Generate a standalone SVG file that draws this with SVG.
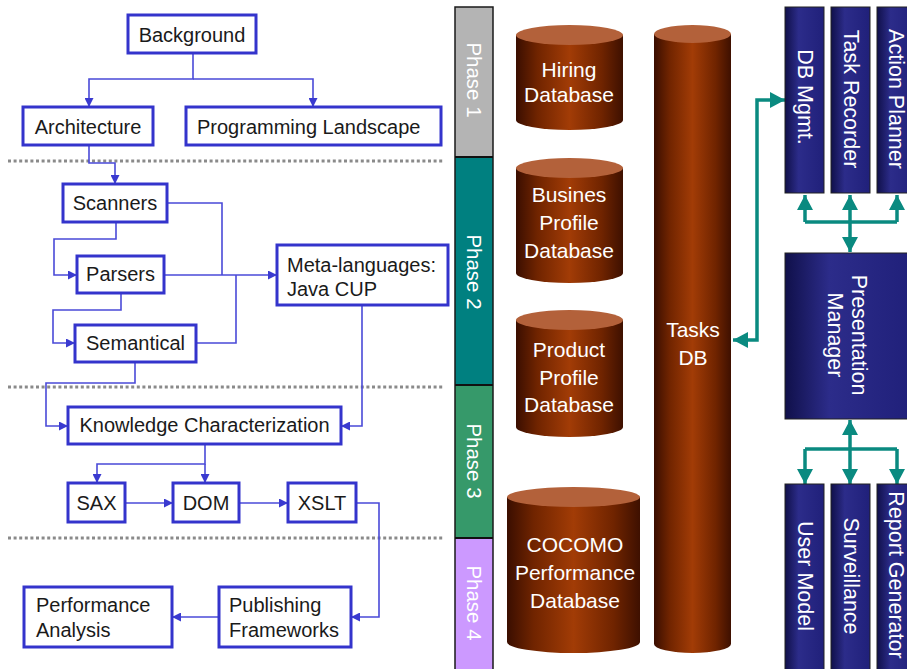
<svg xmlns="http://www.w3.org/2000/svg" width="907" height="669" viewBox="0 0 907 669">
<defs>
<style>
.box{fill:#fff;stroke:#3434cc;stroke-width:3}
.t{font-family:"Liberation Sans",Arial,sans-serif;font-size:20px;fill:#1a1a1a}
.c{text-anchor:middle}
.conn{fill:none;stroke:#4a4ad8;stroke-width:1.6}
.dot{stroke:#8a8a8a;stroke-width:3;stroke-dasharray:3 2.6}
.ph{font-family:"Liberation Sans",Arial,sans-serif;font-size:20.5px;fill:#fff;text-anchor:middle}
.cyl{fill:url(#cylg)}
.cyltop{fill:#b3613a}
.ct{font-family:"Liberation Sans",Arial,sans-serif;font-size:21px;fill:#fff;text-anchor:middle}
.bb{fill:url(#blug);stroke:#222;stroke-width:1}
.bt{font-family:"Liberation Sans",Arial,sans-serif;font-size:21.5px;fill:#fff;text-anchor:middle}
.teal{fill:none;stroke:#0a8a80;stroke-width:3.5}
</style>
<linearGradient id="cylg" x1="0" y1="0" x2="1" y2="0">
<stop offset="0" stop-color="#3a0e00"/>
<stop offset="0.2" stop-color="#702400"/>
<stop offset="0.5" stop-color="#a23c06"/>
<stop offset="0.8" stop-color="#702400"/>
<stop offset="1" stop-color="#3e1000"/>
</linearGradient>
<linearGradient id="blug" x1="0" y1="0" x2="1" y2="0">
<stop offset="0" stop-color="#10104a"/>
<stop offset="0.35" stop-color="#2c2c8a"/>
<stop offset="1" stop-color="#20207a"/>
</linearGradient>
<marker id="ab" viewBox="0 0 10 10" refX="10" refY="5" markerWidth="9" markerHeight="9" markerUnits="userSpaceOnUse" orient="auto">
<path d="M0,0 L10,5 L0,10 Z" fill="#3a3ad0"/>
</marker>
<marker id="at" viewBox="0 0 10 10" refX="10" refY="5" markerWidth="15" markerHeight="16" markerUnits="userSpaceOnUse" orient="auto-start-reverse" preserveAspectRatio="none">
<path d="M0,0 L10,5 L0,10 Z" fill="#0a8a80"/>
</marker>
</defs>
<rect width="907" height="669" fill="#fff"/>

<g id="dividers">
<line class="dot" x1="8" y1="161" x2="443" y2="161"/>
<line class="dot" x1="8" y1="387" x2="443" y2="387"/>
<line class="dot" x1="8" y1="538" x2="443" y2="538"/>
</g>

<g id="connectors">
<path class="conn" d="M193,53 V79 H89 V107" marker-end="url(#ab)"/>
<path class="conn" d="M193,79 H313 V107" marker-end="url(#ab)"/>
<path class="conn" d="M89,145 V163 H115 V184" marker-end="url(#ab)"/>
<path class="conn" d="M116,222 V239 H54 V275 H77" marker-end="url(#ab)"/>
<path class="conn" d="M167,203 H222 V275"/>
<path class="conn" d="M164,275 H277" marker-end="url(#ab)"/>
<path class="conn" d="M121,293 V310 H53 V343 H75" marker-end="url(#ab)"/>
<path class="conn" d="M196,343 H236 V275"/>
<path class="conn" d="M135,362 V383 H46 V426 H68" marker-end="url(#ab)"/>
<path class="conn" d="M362,305 V426 H341" marker-end="url(#ab)"/>
<path class="conn" d="M205,444 V464 H97 V483" marker-end="url(#ab)"/>
<path class="conn" d="M205,464 V483" marker-end="url(#ab)"/>
<path class="conn" d="M125,503 H173" marker-end="url(#ab)"/>
<path class="conn" d="M239,503 H288" marker-end="url(#ab)"/>
<path class="conn" d="M356,503 H379 V617 H351" marker-end="url(#ab)"/>
<path class="conn" d="M219,617 H172" marker-end="url(#ab)"/>
<path class="teal" d="M733,340 H757 V100 H785" marker-start="url(#at)" marker-end="url(#at)"/>
<path class="teal" d="M850,195 V252" marker-start="url(#at)" marker-end="url(#at)"/>
<path class="teal" d="M805,222 H897"/>
<path class="teal" d="M805,222 V195" marker-end="url(#at)"/>
<path class="teal" d="M897,222 V195" marker-end="url(#at)"/>
<path class="teal" d="M850,420 V484" marker-start="url(#at)" marker-end="url(#at)"/>
<path class="teal" d="M805,449 H897"/>
<path class="teal" d="M805,449 V484" marker-end="url(#at)"/>
<path class="teal" d="M897,449 V484" marker-end="url(#at)"/>
</g>

<g id="background"><rect class="box" x="128" y="15" width="128" height="38"/><text class="t c" x="192" y="42">Background</text></g>
<g id="architecture"><rect class="box" x="23" y="107" width="130" height="38"/><text class="t c" x="88" y="134">Architecture</text></g>
<g id="programming"><rect class="box" x="186" y="107" width="255" height="38"/><text class="t" x="197" y="134">Programming Landscape</text></g>
<g id="scanners"><rect class="box" x="63" y="184" width="104" height="38"/><text class="t c" x="115" y="210">Scanners</text></g>
<g id="parsers"><rect class="box" x="77" y="256" width="87" height="37"/><text class="t c" x="120.5" y="281">Parsers</text></g>
<g id="semantical"><rect class="box" x="75" y="325" width="121" height="37"/><text class="t c" x="135.5" y="350">Semantical</text></g>
<g id="meta"><rect class="box" x="277" y="245" width="171" height="60"/><text class="t" x="287" y="272">Meta-languages:</text><text class="t" x="287" y="296">Java CUP</text></g>
<g id="knowledge"><rect class="box" x="68" y="407" width="273" height="37"/><text class="t c" x="204.5" y="432">Knowledge Characterization</text></g>
<g id="sax"><rect class="box" x="68" y="483" width="57" height="39"/><text class="t c" x="96.5" y="510">SAX</text></g>
<g id="dom"><rect class="box" x="173" y="483" width="66" height="39"/><text class="t c" x="206" y="510">DOM</text></g>
<g id="xslt"><rect class="box" x="288" y="483" width="68" height="39"/><text class="t c" x="322" y="510">XSLT</text></g>
<g id="publishing"><rect class="box" x="219" y="587" width="132" height="60"/><text class="t" x="229" y="612">Publishing</text><text class="t" x="229" y="637">Frameworks</text></g>
<g id="performance"><rect class="box" x="24" y="587" width="148" height="60"/><text class="t" x="36" y="612">Performance</text><text class="t" x="36" y="637">Analysis</text></g>

<g id="phases">
<rect x="455" y="7" width="38" height="150" fill="#b4b4b4"/>
<rect x="455" y="157" width="38" height="228" fill="#008080"/>
<rect x="455" y="385" width="38" height="153" fill="#36996a"/>
<rect x="455" y="538" width="38" height="131" fill="#cc99ff"/>
<rect x="455" y="7" width="38" height="664" fill="none" stroke="#1a1a1a" stroke-width="1.5"/>
<line x1="455" y1="157" x2="493" y2="157" stroke="#111" stroke-width="2"/>
<line x1="455" y1="385" x2="493" y2="385" stroke="#111" stroke-width="2"/>
<line x1="455" y1="538" x2="493" y2="538" stroke="#111" stroke-width="2"/>
<text class="ph" transform="translate(474,80) rotate(90)" y="7">Phase 1</text>
<text class="ph" transform="translate(474,272) rotate(90)" y="7">Phase 2</text>
<text class="ph" transform="translate(474,461) rotate(90)" y="7">Phase 3</text>
<text class="ph" transform="translate(474,603) rotate(90)" y="7">Phase 4</text>
</g>

<g id="hiring">
<path class="cyl" d="M516,35 V120 A53.5,10 0 0 0 623,120 V35 Z"/>
<ellipse class="cyltop" cx="569.5" cy="35" rx="53.5" ry="10"/>
<text class="ct" x="569" y="77">Hiring</text><text class="ct" x="569" y="102">Database</text>
</g>
<g id="busines">
<path class="cyl" d="M516,168 V273 A53.5,10 0 0 0 623,273 V168 Z"/>
<ellipse class="cyltop" cx="569.5" cy="168" rx="53.5" ry="10"/>
<text class="ct" x="569" y="202">Busines</text><text class="ct" x="569" y="230">Profile</text><text class="ct" x="569" y="258">Database</text>
</g>
<g id="product">
<path class="cyl" d="M516,320 V427 A53.5,10 0 0 0 623,427 V320 Z"/>
<ellipse class="cyltop" cx="569.5" cy="320" rx="53.5" ry="10"/>
<text class="ct" x="569" y="357">Product</text><text class="ct" x="569" y="385">Profile</text><text class="ct" x="569" y="412">Database</text>
</g>
<g id="cocomo">
<path class="cyl" d="M507,497 V642 A66.5,11 0 0 0 640,642 V497 Z"/>
<ellipse class="cyltop" cx="573.5" cy="497" rx="66.5" ry="10"/>
<text class="ct" x="575" y="552">COCOMO</text><text class="ct" x="575" y="580">Performance</text><text class="ct" x="575" y="608">Database</text>
</g>
<g id="tasksdb">
<path class="cyl" d="M654,34 V644 A38.5,9 0 0 0 731,644 V34 Z"/>
<ellipse class="cyltop" cx="692.5" cy="34" rx="38.5" ry="9"/>
<text class="ct" x="693" y="337">Tasks</text><text class="ct" x="693" y="365">DB</text>
</g>

<g id="dbmgmt"><rect class="bb" x="785" y="7" width="39" height="186"/><text class="bt" transform="translate(804.5,97) rotate(90)" y="7">DB Mgmt.</text></g>
<g id="taskrecorder"><rect class="bb" x="831" y="7" width="39" height="186"/><text class="bt" transform="translate(850.5,99) rotate(90)" y="7">Task Recorder</text></g>
<g id="actionplanner"><rect class="bb" x="877" y="7" width="39" height="186"/><text class="bt" transform="translate(895.5,99) rotate(90)" y="7">Action Planner</text></g>
<g id="presentation"><rect class="bb" x="785" y="253" width="127" height="166"/><text class="bt" transform="translate(859,335) rotate(90)" y="7">Presentation</text><text class="bt" transform="translate(835,335) rotate(90)" y="7">Manager</text></g>
<g id="usermodel"><rect class="bb" x="785" y="484" width="39" height="190"/><text class="bt" transform="translate(804.5,576) rotate(90)" y="7">User Model</text></g>
<g id="surveillance"><rect class="bb" x="831" y="484" width="39" height="190"/><text class="bt" transform="translate(850.5,576) rotate(90)" y="7">Surveillance</text></g>
<g id="reportgen"><rect class="bb" x="877" y="484" width="39" height="190"/><text class="bt" transform="translate(895.5,575) rotate(90)" y="7">Report Generator</text></g>
</svg>
